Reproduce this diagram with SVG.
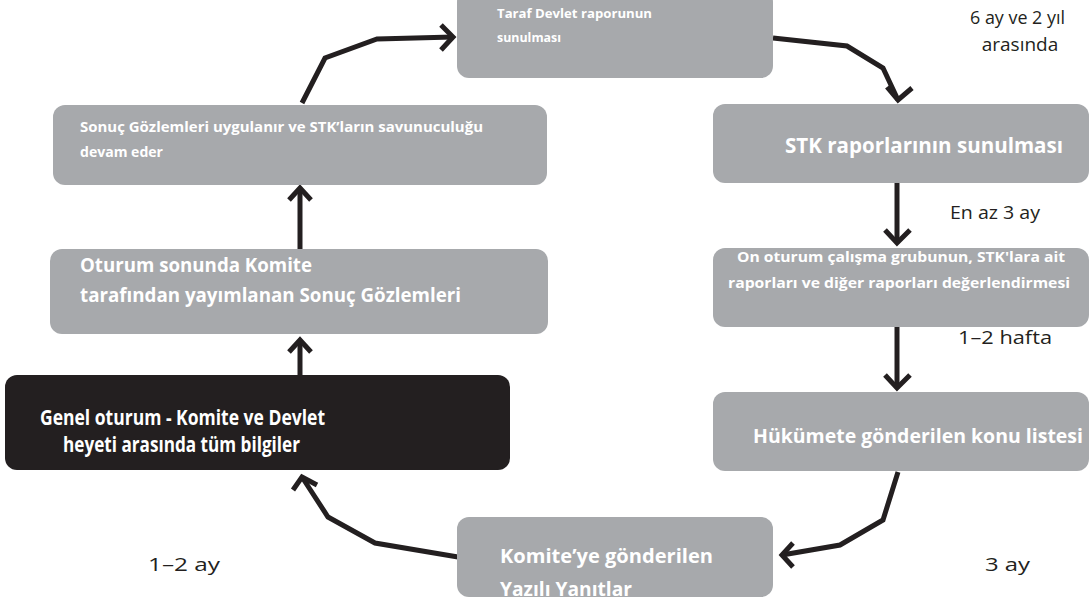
<svg xmlns="http://www.w3.org/2000/svg" width="1090" height="605" viewBox="0 0 1090 605">
<style>
.box{fill:#a7a9ac}
.dark{fill:#231f20}
.t{font-family:"Open Sans","Liberation Sans",sans-serif;font-weight:700;fill:#ffffff}
.lbl{font-family:"Open Sans","Liberation Sans",sans-serif;font-weight:400;fill:#231f20;font-size:19px}
.c{fill:none;stroke:#231f20;stroke-width:5;stroke-linejoin:miter;stroke-linecap:butt}
</style>
<rect width="1090" height="605" fill="#ffffff"/>
<g id="connectors">
<path class="c" d="M773,38 L847,46 L883,68 L898,100"/>
<path class="c" d="M887,87 L898,100 L912,88"/>
<path class="c" d="M897,183 L897,243"/>
<path class="c" d="M885,230 L897,243 L910,230"/>
<path class="c" d="M897,327 L897,388"/>
<path class="c" d="M885,375 L897,388 L910,375"/>
<path class="c" d="M898,472 L883,520 L840,545 L782,555"/>
<path class="c" d="M793,543 L782,555 L793,567"/>
<path class="c" d="M458,557 L375,543 L328,517 L302,477"/>
<path class="c" d="M293,490 L302,477 L317,485"/>
<path class="c" d="M300,375 L300,340"/>
<path class="c" d="M289,352 L300,340 L311,352"/>
<path class="c" d="M300,249 L300,188"/>
<path class="c" d="M289,200 L300,188 L311,200"/>
<path class="c" d="M302,103 L325,58 L377,39 L453,37"/>
<path class="c" d="M441,25 L453,37 L441,50"/>
</g>
<g id="n-taraf">
<rect class="box" x="457" y="-10" width="316" height="88" rx="12"/>
<text class="t" font-size="13"><tspan x="497" y="18" textLength="155" lengthAdjust="spacingAndGlyphs">Taraf Devlet raporunun</tspan><tspan x="497" y="42" textLength="64" lengthAdjust="spacingAndGlyphs">sunulması</tspan></text>
</g>
<g id="n-stk">
<rect class="box" x="713" y="104" width="376" height="79" rx="12"/>
<text class="t" font-size="21" x="785" y="153" textLength="278" lengthAdjust="spacingAndGlyphs">STK raporlarının sunulması</text>
</g>
<g id="n-onoturum">
<rect class="box" x="713" y="248" width="376" height="79" rx="12"/>
<text class="t" font-size="15"><tspan x="737" y="262" textLength="328" lengthAdjust="spacingAndGlyphs">On oturum çalışma grubunun, STK'lara ait</tspan><tspan x="728" y="288" textLength="342" lengthAdjust="spacingAndGlyphs">raporları ve diğer raporları değerlendirmesi</tspan></text>
</g>
<g id="n-hukumete">
<rect class="box" x="713" y="392" width="376" height="79" rx="12"/>
<text class="t" font-size="20" x="753" y="443" textLength="330" lengthAdjust="spacingAndGlyphs">Hükümete gönderilen konu listesi</text>
</g>
<g id="n-komite">
<rect class="box" x="457" y="517" width="316" height="80" rx="12"/>
<text class="t" font-size="20"><tspan x="500" y="563" textLength="213" lengthAdjust="spacingAndGlyphs">Komite’ye gönderilen</tspan><tspan x="500" y="596" textLength="132" lengthAdjust="spacingAndGlyphs">Yazılı Yanıtlar</tspan></text>
</g>
<g id="n-genel">
<rect class="dark" x="5" y="375" width="505" height="95" rx="12"/>
<text class="t" font-size="21"><tspan x="40" y="425" textLength="285" lengthAdjust="spacingAndGlyphs">Genel oturum - Komite ve Devlet</tspan><tspan x="63" y="452" textLength="237" lengthAdjust="spacingAndGlyphs">heyeti arasında tüm bilgiler</tspan></text>
</g>
<g id="n-oturum">
<rect class="box" x="50" y="249" width="498" height="85" rx="12"/>
<text class="t" font-size="19"><tspan x="80" y="272" textLength="232" lengthAdjust="spacingAndGlyphs">Oturum sonunda Komite</tspan><tspan x="80" y="302" textLength="381" lengthAdjust="spacingAndGlyphs">tarafından yayımlanan Sonuç Gözlemleri</tspan></text>
</g>
<g id="n-sonuc">
<rect class="box" x="53" y="105" width="494" height="80" rx="12"/>
<text class="t" font-size="15"><tspan x="80" y="132" textLength="403" lengthAdjust="spacingAndGlyphs">Sonuç Gözlemleri uygulanır ve STK’ların savunuculuğu</tspan><tspan x="80" y="157" textLength="83" lengthAdjust="spacingAndGlyphs">devam eder</tspan></text>
</g>
<g id="labels">
<text class="lbl" x="970" y="24" textLength="95" lengthAdjust="spacingAndGlyphs">6 ay ve 2 yıl</text>
<text class="lbl" x="1020" y="51" text-anchor="middle">arasında</text>
<text class="lbl" x="950" y="219" textLength="90" lengthAdjust="spacingAndGlyphs">En az 3 ay</text>
<text class="lbl" x="958" y="344" textLength="94" lengthAdjust="spacingAndGlyphs">1–2 hafta</text>
<text class="lbl" x="148" y="571" textLength="72" lengthAdjust="spacingAndGlyphs">1–2 ay</text>
<text class="lbl" x="985" y="571" textLength="45" lengthAdjust="spacingAndGlyphs">3 ay</text>
</g>
</svg>
